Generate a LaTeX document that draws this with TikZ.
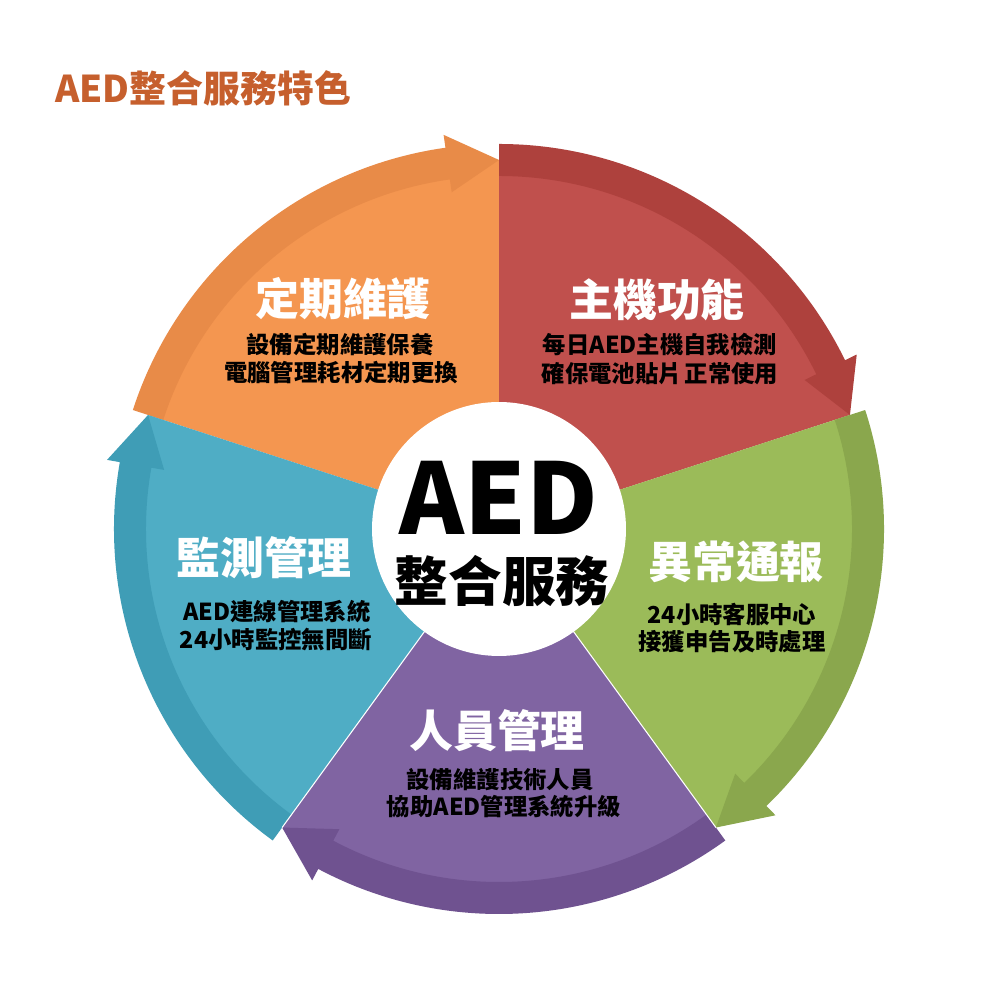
\documentclass[tikz,border=0pt]{standalone}
\usepackage{fontspec}
\setmainfont{Noto Sans CJK TC}
\definecolor{orL}{HTML}{F49650}
\definecolor{orD}{HTML}{E88B48}
\definecolor{rdL}{HTML}{C0504D}
\definecolor{rdD}{HTML}{AE413D}
\definecolor{grL}{HTML}{9BBB59}
\definecolor{grD}{HTML}{8AA74D}
\definecolor{puL}{HTML}{8064A2}
\definecolor{puD}{HTML}{6F5290}
\definecolor{blL}{HTML}{4FADC5}
\definecolor{blD}{HTML}{3F9DB6}
\definecolor{ttl}{HTML}{C65F2D}
\tikzset{
  segtitle/.style={inner sep=0pt, anchor=base, text=white, font=\bfseries\fontsize{25}{30}\selectfont},
  segtext/.style={inner sep=0pt, anchor=base, text=black, font=\bfseries\fontsize{13.3}{16}\selectfont},
}
\begin{document}
\begin{tikzpicture}[x=0.02cm,y=0.02cm]
\useasboundingbox (0,0) rectangle (1000,1000);
\fill[white] (0,0) rectangle (1000,1000);
\node[inner sep=0pt, anchor=base west, text=ttl, font=\bfseries\fontsize{21}{25}\selectfont] (title) at (55,897) {AED整合服務特色};
\begin{scope}[shift={(499,471)}]
\foreach \s/\lc/\dc in {162/orL/orD, 90/rdL/rdD, 18/grL/grD, -54/puL/puD, -126/blL/blD} {
  \pgfmathsetmacro\e{\s-72}
  \pgfmathsetmacro\b{\s-64}
  \fill[\lc] (0,0) -- (\s:369) arc[start angle=\s, end angle=\e, radius=369] -- cycle;
  \fill[\dc] (\s:385) arc[start angle=\s, end angle=\b, radius=385] -- (\b:398) -- (\e:369) -- (\b:340) -- (\b:353) arc[start angle=\b, end angle=\s, radius=353] -- cycle;
}
\draw[white, line width=0.6pt] (-54:120) -- (-54:369);
\draw[white, line width=0.6pt] (-126:120) -- (-126:369);
\node[circle, fill=white, minimum size=5.08cm, inner sep=0pt] (hub) at (0,0) {};
\end{scope}
\node[inner sep=0pt, anchor=base, font=\bfseries\fontsize{56}{60}\selectfont] (aed) at (499,465) {AED};
\node[inner sep=0pt, anchor=base, font=\bfseries\fontsize{30.5}{34}\selectfont] (svc) at (502,398) {整合服務};
% orange
\node[segtitle] (t1) at (343,684) {定期維護};
\node[segtext] (t1a) at (340,646) {設備定期維護保養};
\node[segtext] (t1b) at (341,618) {電腦管理耗材定期更換};
% red
\node[segtitle] (t2) at (657,683) {主機功能};
\node[segtext] (t2a) at (660,646) {每日AED主機自我檢測};
\node[segtext] (t2b) at (660,617) {確保電池貼片\hspace{0.12em}正常使用};
% green
\node[segtitle] (t3) at (736,421) {異常通報};
\node[segtext] (t3a) at (732,376) {24小時客服中心};
\node[segtext] (t3b) at (732,349) {接獲申告及時處理};
% purple
\node[segtitle] (t4) at (497,252) {人員管理};
\node[segtext] (t4a) at (500,211) {設備維護技術人員};
\node[segtext] (t4b) at (504,184) {協助AED管理系統升級};
% blue
\node[segtitle] (t5) at (264,425) {監測管理};
\node[segtext] (t5a) at (277,379) {AED連線管理系統};
\node[segtext] (t5b) at (276,351) {24小時監控無間斷};
\end{tikzpicture}
\end{document}
